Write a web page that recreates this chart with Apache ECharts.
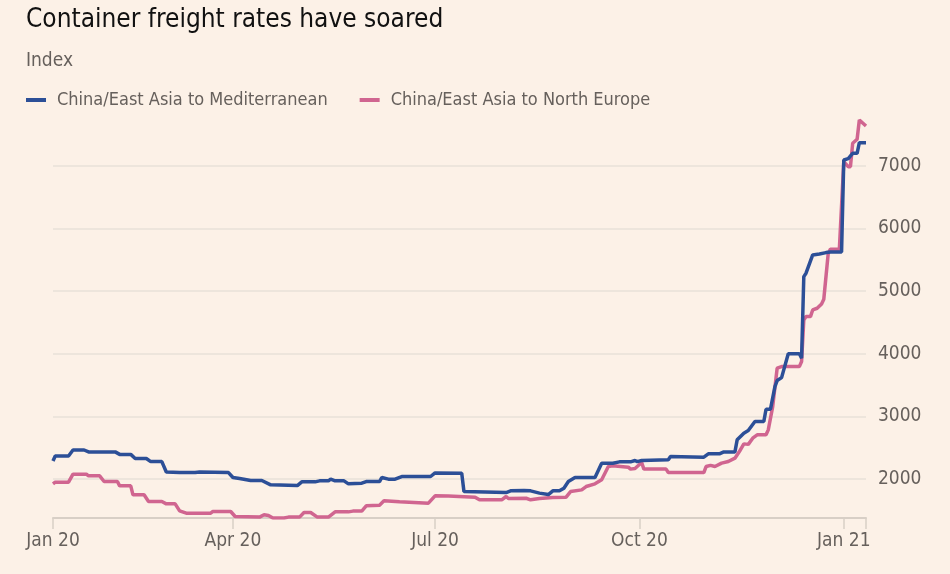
<!DOCTYPE html>
<html>
<head>
<meta charset="utf-8">
<script src="https://cdn.jsdelivr.net/npm/echarts@6/dist/echarts.min.js"></script>
<style>
html, body { margin: 0; padding: 0; background: #fcf1e7; }
#grafico { width: 950px; height: 574px; }
</style>
</head>
<body>
<div id="grafico"></div>
<script>
/* Container freight rates, index */

var medDates = [
    '2020-01-11', '2020-01-12', '2020-01-18', '2020-01-20', '2020-01-25', '2020-01-27',
    '2020-02-08', '2020-02-10', '2020-02-15', '2020-02-17', '2020-02-22', '2020-02-24', '2020-02-29',
    '2020-03-02', '2020-03-08', '2020-03-15', '2020-03-17', '2020-03-30',
    '2020-04-01', '2020-04-04', '2020-04-09', '2020-04-14', '2020-04-18', '2020-04-30',
    '2020-05-02', '2020-05-08', '2020-05-10', '2020-05-14', '2020-05-15', '2020-05-17', '2020-05-21',
    '2020-05-23', '2020-05-29', '2020-05-31',
    '2020-06-06', '2020-06-07', '2020-06-10', '2020-06-13', '2020-06-16', '2020-06-29',
    '2020-07-01', '2020-07-13', '2020-07-14',
    '2020-08-02', '2020-08-04', '2020-08-10', '2020-08-13', '2020-08-17', '2020-08-21', '2020-08-23',
    '2020-08-26', '2020-08-28', '2020-08-30',
    '2020-09-02', '2020-09-11', '2020-09-14', '2020-09-19', '2020-09-22', '2020-09-27', '2020-09-29', '2020-09-30',
    '2020-10-02', '2020-10-14', '2020-10-15', '2020-10-30',
    '2020-11-01', '2020-11-06', '2020-11-08', '2020-11-13', '2020-11-14', '2020-11-17', '2020-11-19',
    '2020-11-22', '2020-11-26', '2020-11-27', '2020-11-29',
    '2020-12-01', '2020-12-02', '2020-12-04', '2020-12-07', '2020-12-12', '2020-12-13', '2020-12-14',
    '2020-12-15', '2020-12-18', '2020-12-21', '2020-12-24', '2020-12-26', '2020-12-31',
    '2021-01-01', '2021-01-03', '2021-01-05', '2021-01-07', '2021-01-08', '2021-01-11'
];
var medValues = [
    2290, 2370, 2370, 2465, 2465, 2435,
    2435, 2395, 2395, 2330, 2330, 2280, 2280,
    2115, 2105, 2105, 2115, 2105,
    2026, 2010, 1978, 1978, 1909, 1898,
    1957, 1957, 1973, 1973, 2000, 1973, 1973,
    1925, 1936, 1962,
    1962, 2026, 2000, 2000, 2042, 2042,
    2100, 2096, 1802,
    1786, 1813, 1818, 1813, 1777, 1754, 1813,
    1813, 1856, 1962,
    2026, 2026, 2255, 2255, 2276, 2276, 2297, 2280,
    2297, 2308, 2361, 2351,
    2404, 2404, 2435, 2435, 2627, 2734, 2776,
    2919, 2919, 3116, 3116,
    3477, 3573, 3620, 4000, 4000, 3930, 5232,
    5286, 5578, 5594, 5615, 5626, 5626,
    7093, 7114, 7200, 7200, 7369, 7369
];

var neDates = [
    '2020-01-11', '2020-01-12', '2020-01-18', '2020-01-20', '2020-01-26', '2020-01-27',
    '2020-02-01', '2020-02-03', '2020-02-09', '2020-02-10', '2020-02-15', '2020-02-16', '2020-02-21',
    '2020-02-23', '2020-02-29',
    '2020-03-02', '2020-03-06', '2020-03-08', '2020-03-11', '2020-03-22', '2020-03-23', '2020-03-31',
    '2020-04-02', '2020-04-13', '2020-04-15', '2020-04-17', '2020-04-19', '2020-04-24', '2020-04-26',
    '2020-05-01', '2020-05-03', '2020-05-06', '2020-05-09', '2020-05-14', '2020-05-17', '2020-05-23',
    '2020-05-25', '2020-05-29', '2020-05-31',
    '2020-06-06', '2020-06-08', '2020-06-15', '2020-06-28',
    '2020-07-01', '2020-07-07', '2020-07-19', '2020-07-21', '2020-07-31',
    '2020-08-02', '2020-08-03', '2020-08-11', '2020-08-13', '2020-08-17', '2020-08-23', '2020-08-29', '2020-08-31',
    '2020-09-05', '2020-09-07', '2020-09-11', '2020-09-14', '2020-09-17', '2020-09-19', '2020-09-26',
    '2020-09-27', '2020-09-29',
    '2020-10-02', '2020-10-03', '2020-10-13', '2020-10-14', '2020-10-30', '2020-10-31',
    '2020-11-02', '2020-11-04', '2020-11-07', '2020-11-10', '2020-11-13', '2020-11-15', '2020-11-17',
    '2020-11-19', '2020-11-21', '2020-11-23', '2020-11-27', '2020-11-28', '2020-11-30',
    '2020-12-02', '2020-12-04', '2020-12-12', '2020-12-13', '2020-12-14', '2020-12-15', '2020-12-17',
    '2020-12-18', '2020-12-20', '2020-12-22', '2020-12-23', '2020-12-25', '2020-12-26', '2020-12-30',
    '2021-01-01', '2021-01-03', '2021-01-04', '2021-01-05', '2021-01-07', '2021-01-08', '2021-01-11'
];
var neValues = [
    1925, 1952, 1952, 2080, 2080, 2053,
    2053, 1962, 1962, 1893, 1893, 1750, 1750,
    1643, 1643,
    1606, 1606, 1494, 1457, 1457, 1484, 1484,
    1404, 1394, 1431, 1420, 1380, 1380, 1394,
    1394, 1467, 1467, 1394, 1394, 1478, 1478,
    1490, 1490, 1574,
    1585, 1654, 1638, 1617,
    1734, 1730, 1713, 1670, 1670,
    1723, 1691, 1695, 1670, 1691, 1707, 1713, 1802,
    1829, 1882, 1925, 1989, 2201, 2212, 2191,
    2160, 2170,
    2265, 2160, 2160, 2105, 2105, 2201,
    2220, 2201, 2255, 2281, 2335, 2440, 2563,
    2555, 2654, 2707, 2707, 2786, 3158,
    3770, 3796, 3796, 3876, 4541, 4594, 4594,
    4700, 4727, 4796, 4871, 5605, 5669, 5669,
    7066, 6986, 6986, 7359, 7423, 7731, 7635
];

var xStart = '2020-01-11';
var xEnd = '2021-01-11';
var xTickDates = ['2020-01-11', '2020-04-01', '2020-07-01', '2020-10-01', '2021-01-01', '2021-01-11'];
var xLabelDates = ['2020-01-11', '2020-04-01', '2020-07-01', '2020-10-01', '2021-01-01'];
var yTickValues = [2000, 3000, 4000, 5000, 6000, 7000];
var monthNames = ['Jan', 'Feb', 'Mar', 'Apr', 'May', 'Jun', 'Jul', 'Aug', 'Sep', 'Oct', 'Nov', 'Dec'];

// datas -> timestamp (hora local), eixo x tratado como valor numérico
function ts(d) {
    var p = d.split('-');
    return new Date(+p[0], +p[1] - 1, +p[2]).getTime();
}
function pares(datas, valores) {
    return datas.map(function (d, i) { return [ts(d), valores[i]]; });
}

var fonte = "'DejaVu Sans Condensed', 'DejaVu Sans', sans-serif";
var cinza = '#66605c';

var dom = document.getElementById('grafico');
var myChart = echarts.init(dom);

var option = {
    backgroundColor: '#fcf1e7',
    animation: false,
    title: {
        text: 'Container freight rates have soared',
        subtext: 'Index',
        left: 26,
        top: 7,
        padding: 0,
        itemGap: 19,
        textStyle: { fontFamily: fonte, fontSize: 26, fontWeight: 'normal', color: '#111' },
        subtextStyle: { fontFamily: fonte, fontSize: 19, color: cinza }
    },
    legend: {
        left: 26,
        top: 91,
        padding: 0,
        icon: 'rect',
        itemWidth: 20,
        itemHeight: 4,
        itemGap: 32,
        textStyle: { fontFamily: fonte, fontSize: 18, color: cinza, padding: [0, 0, 0, 6] },
        data: ['China/East Asia to Mediterranean', 'China/East Asia to North Europe']
    },
    grid: { left: 53, right: 84, top: 120, bottom: 56 },
    xAxis: {
        type: 'value',
        min: ts(xStart),
        max: ts(xEnd),
        axisLine: { show: true, lineStyle: { color: '#d8cfc6', width: 2 } },
        axisTick: {
            show: true,
            length: 11,
            customValues: xTickDates.map(ts),
            lineStyle: { color: '#d8cfc6', width: 1.5 }
        },
        axisLabel: {
            customValues: xLabelDates.map(ts),
            color: cinza,
            fontFamily: fonte,
            fontSize: 19,
            margin: 14,
            formatter: function (v) {
                var d = new Date(v);
                return monthNames[d.getMonth()] + ' ' + String(d.getFullYear()).slice(2);
            }
        },
        splitLine: { show: false }
    },
    yAxis: {
        type: 'value',
        position: 'right',
        min: 'dataMin',
        max: 'dataMax',
        axisLine: { show: false },
        axisTick: { show: false, customValues: yTickValues },
        axisLabel: {
            customValues: yTickValues,
            color: cinza,
            fontFamily: fonte,
            fontSize: 19,
            margin: 12,
            formatter: function (v) { return String(v); }
        },
        splitLine: { show: true, lineStyle: { color: '#e9e1d8', width: 1.5 } }
    },
    series: [{
        name: 'China/East Asia to Mediterranean',
        type: 'line',
        showSymbol: false,
        color: '#2c4f97',
        lineStyle: { width: 3.5 },
        z: 3,
        data: pares(medDates, medValues)
    }, {
        name: 'China/East Asia to North Europe',
        type: 'line',
        showSymbol: false,
        color: '#d06590',
        lineStyle: { width: 3.5 },
        z: 2,
        data: pares(neDates, neValues)
    }]
};

if (option && typeof option === 'object') {
    myChart.setOption(option, true);
}
</script>
</body>
</html>
